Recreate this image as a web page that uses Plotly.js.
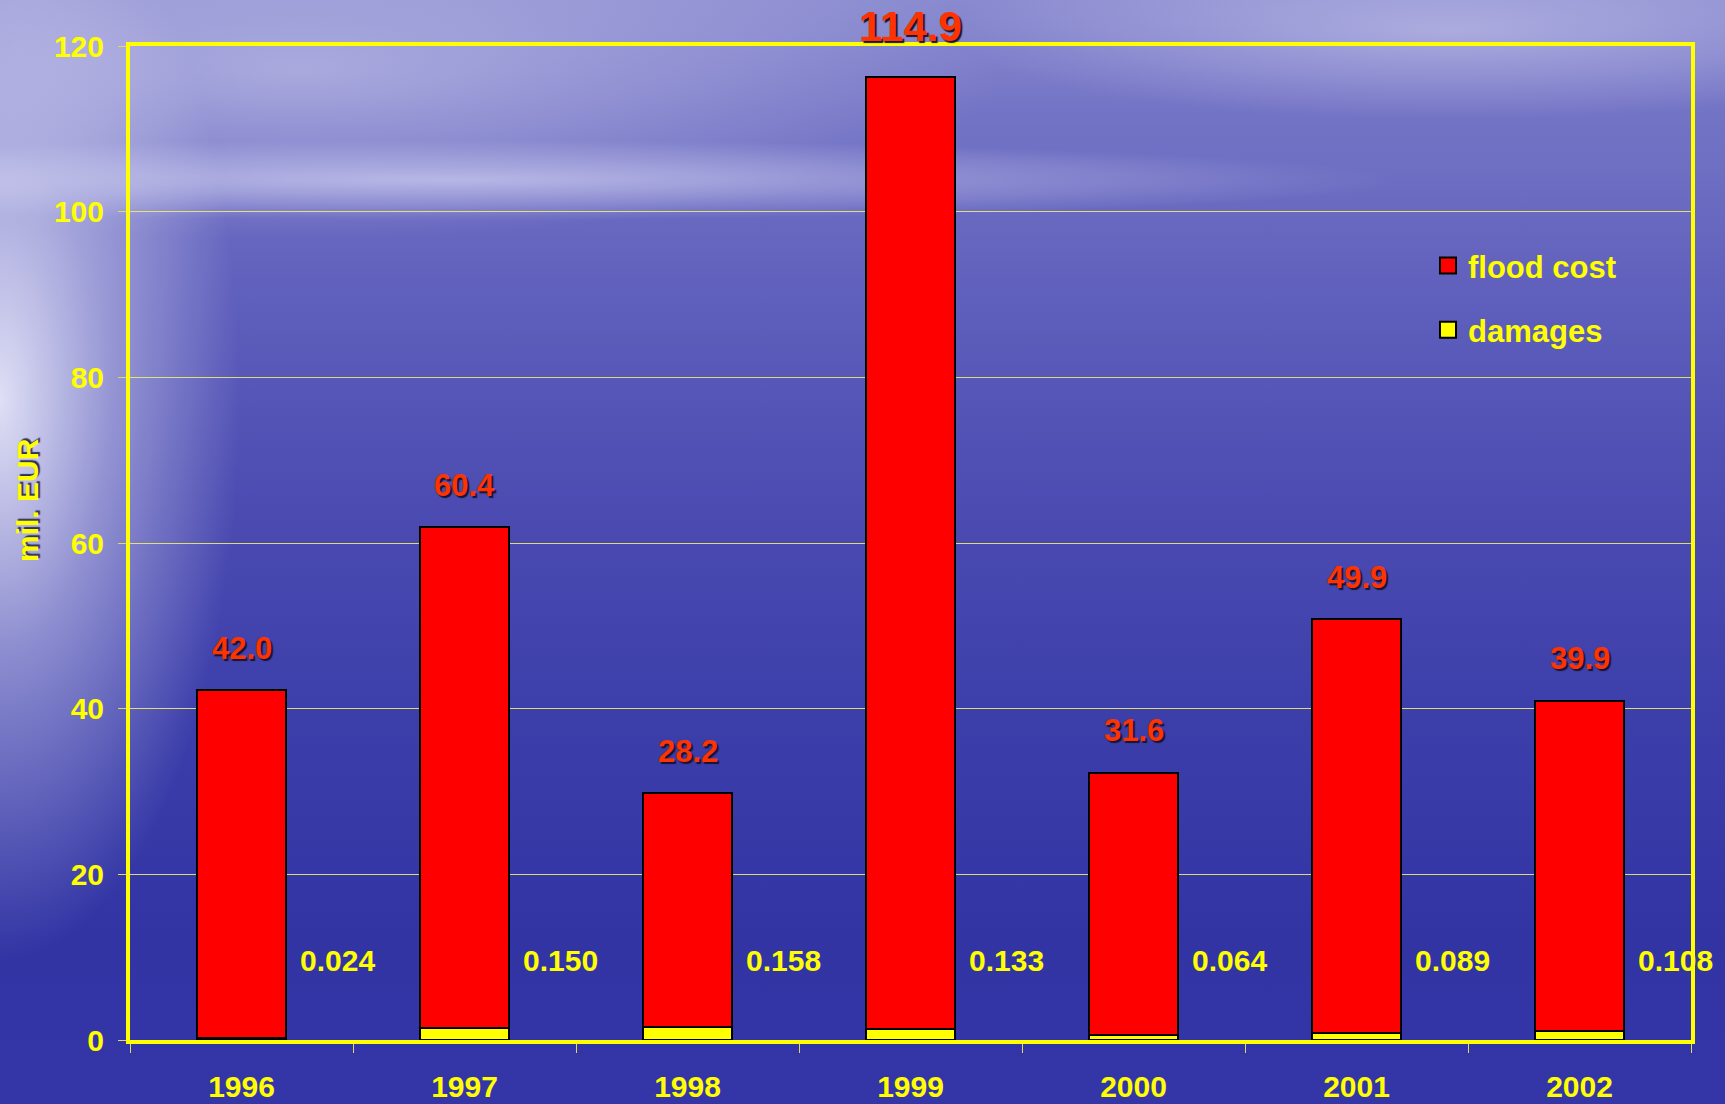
<!DOCTYPE html>
<html>
<head>
<meta charset="utf-8">
<script src="https://cdn.plot.ly/plotly-3.0.1.min.js"></script>
<style>
  html, body { margin: 0; padding: 0; }
  body {
    width: 1725px; height: 1104px; overflow: hidden;
    background:
      radial-gradient(ellipse 240px 560px at 0px 400px, rgba(238,238,252,0.9) 0%, rgba(215,215,242,0.5) 45%, rgba(200,200,240,0) 100%),
      radial-gradient(ellipse 950px 40px at 450px 180px, rgba(220,220,248,0.6) 0%, rgba(220,220,248,0) 100%),
      radial-gradient(ellipse 700px 170px at 300px 70px, rgba(200,200,236,0.6) 0%, rgba(200,200,236,0) 100%),
      radial-gradient(ellipse 500px 90px at 1450px 30px, rgba(220,220,245,0.45) 0%, rgba(220,220,245,0) 100%),
      linear-gradient(to bottom, #8a8ad0 0%, #7474c6 10%, #6c6cc2 17%, #5e5ebc 28%, #4c4cb2 45%, #3c3eaa 65%, #3234a4 85%, #3436a8 100%);
  }
  #chart { width: 1725px; height: 1104px; }
</style>
</head>
<body>
<div id="chart"></div>
<script>
const years = ['1996', '1997', '1998', '1999', '2000', '2001', '2002'];
const floodCost = [42.0, 60.4, 28.2, 114.9, 31.6, 49.9, 39.9];
const damagesBar = [0.24, 1.50, 1.58, 1.33, 0.64, 0.89, 1.08];
const damagesLabel = ['0.024', '0.150', '0.158', '0.133', '0.064', '0.089', '0.108'];
const yTicks = [0, 20, 40, 60, 80, 100, 120];

const FONT = '"Liberation Sans", Arial, sans-serif';
const YELLOW = '#ffff00';
const RED = '#ff0000';

const traces = [
  {
    type: 'bar', name: 'damages', x: years, y: damagesBar, showlegend: false,
    marker: { color: YELLOW, line: { color: '#000000', width: 2 } },
    width: 0.4, hoverinfo: 'skip'
  },
  {
    type: 'bar', name: 'flood cost', x: years, y: floodCost, showlegend: false,
    marker: { color: RED, line: { color: '#000000', width: 2 } },
    width: 0.4, hoverinfo: 'skip'
  },
  // legend entries (larger square keys than the bar legend symbol)
  {
    type: 'scatter', mode: 'markers', name: 'flood cost', x: [null], y: [null],
    legendgroup: 'a', hoverinfo: 'skip',
    marker: { symbol: 'square', size: 16, color: RED, line: { color: '#000000', width: 2 } }
  },
  {
    type: 'scatter', mode: 'markers', name: 'damages', x: [null], y: [null],
    legendgroup: 'b', hoverinfo: 'skip',
    marker: { symbol: 'square', size: 16, color: YELLOW, line: { color: '#000000', width: 2 } }
  }
];

const M = { l: 130, r: 34, t: 46, b: 64 };
const pw = 1725 - M.l - M.r, ph = 1104 - M.t - M.b;

const maxCost = Math.max(...floodCost);
const annotations = [];
years.forEach((yr, i) => {
  const big = floodCost[i] === maxCost;
  annotations.push({
    x: i, y: floodCost[i] + damagesBar[i], xref: 'x', yref: 'y',
    text: floodCost[i].toFixed(1), showarrow: false,
    yanchor: 'middle', yshift: big ? 51 : 42,
    font: { family: FONT, size: big ? 42 : 31, color: '#ff3300', weight: 'bold',
            shadow: '2px 2px 1px #141436' }
  });
  annotations.push({
    x: i + 0.43, y: 9.6, xref: 'x', yref: 'y',
    text: damagesLabel[i], showarrow: false, yanchor: 'middle',
    font: { family: FONT, size: 30, color: YELLOW, weight: 'bold' }
  });
});
annotations.push({
  x: (27 - M.l) / pw, y: (1104 - M.b - 500) / ph, xref: 'paper', yref: 'paper',
  text: 'mil. EUR', showarrow: false, textangle: -90, xanchor: 'center', yanchor: 'middle',
  font: { family: FONT, size: 30, color: YELLOW, weight: 'bold', shadow: '2px 2px 1px #303060' }
});

const layout = {
  width: 1725, height: 1104,
  margin: M,
  paper_bgcolor: 'rgba(0,0,0,0)',
  plot_bgcolor: 'rgba(0,0,0,0)',
  barmode: 'stack',
  showlegend: true,
  legend: {
    x: 0.8315, y: 0.806, xanchor: 'left', yanchor: 'top',
    bgcolor: 'rgba(0,0,0,0)', traceorder: 'grouped', tracegroupgap: 21,
    font: { family: FONT, size: 31, color: YELLOW, weight: 'bold' }
  },
  xaxis: {
    type: 'category', range: [-0.5, 6.5],
    showline: true, linecolor: YELLOW, linewidth: 4, mirror: true,
    ticks: 'outside', tickson: 'boundaries', ticklen: 9, tickcolor: '#e0d860', tickwidth: 1,
    ticklabelstandoff: 17,
    tickfont: { family: FONT, size: 30, color: YELLOW, weight: 'bold' },
    showgrid: false, zeroline: false, fixedrange: true
  },
  yaxis: {
    range: [0, 120], tickvals: yTicks,
    showline: true, linecolor: YELLOW, linewidth: 4, mirror: true,
    ticks: 'outside', ticklen: 8, tickcolor: '#e0d860', tickwidth: 1,
    ticklabelstandoff: 8,
    tickfont: { family: FONT, size: 30, color: YELLOW, weight: 'bold' },
    showgrid: true, gridcolor: 'rgba(240,235,110,0.9)', gridwidth: 1,
    zeroline: false, fixedrange: true
  },
  annotations: annotations
};

Plotly.newPlot('chart', traces, layout, { displayModeBar: false, staticPlot: true });
</script>
</body>
</html>
